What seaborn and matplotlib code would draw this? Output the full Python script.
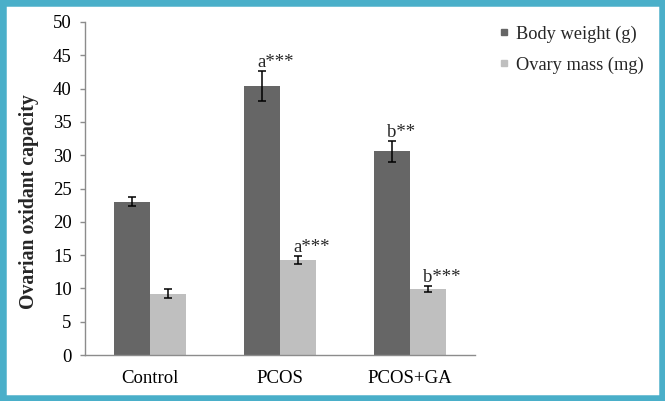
import pandas as pd
import matplotlib
matplotlib.use("Agg")
import matplotlib.pyplot as plt
import seaborn as sns
from matplotlib.lines import Line2D
from matplotlib.patches import Rectangle

groups = ['Control', 'PCOS', 'PCOS+GA']
body_weight = [23.0, 40.4, 30.6]
body_weight_err = [0.7, 2.3, 1.6]
ovary_mass = [9.2, 14.3, 9.9]
ovary_mass_err = [0.7, 0.6, 0.5]
body_marks = ['', 'a***', 'b**']
ovary_marks = ['', 'a***', 'b***']
series = ['Body weight (g)', 'Ovary mass (mg)']

df = pd.DataFrame({
    'group': groups * 2,
    'measure': [series[0]] * 3 + [series[1]] * 3,
    'value': body_weight + ovary_mass,
})

sns.set_theme(style="white")
plt.rcParams["font.family"] = ["Liberation Serif", "DejaVu Serif"]
colors = ['#666666', '#bfbfbf']

fig = plt.figure(figsize=(6.65, 4.01), dpi=100)
ax = fig.add_axes([85/665, 1-355/401, 390/665, 333/401])

sns.barplot(data=df, x='group', y='value', hue='measure', palette=colors,
            width=0.56, errorbar=None, linewidth=0, ax=ax, legend=False)

# error bars + significance marks on top of each bar
for cont, errs, marks in zip(ax.containers, [body_weight_err, ovary_mass_err],
                             [body_marks, ovary_marks]):
    for bar, e, m in zip(cont, errs, marks):
        cx = bar.get_x() + bar.get_width() / 2
        h = bar.get_height()
        ax.errorbar(cx, h, yerr=e, fmt='none', ecolor='black', elinewidth=1.1,
                    capsize=3, capthick=1.1)
        if m:
            ax.annotate(m, xy=(cx, h + e), xytext=(-3.5, 0), textcoords='offset points',
                        ha='left', va='bottom', fontsize=13.5)

ax.set_ylim(0, 50)
ax.set_yticks(range(0, 51, 5))
ax.set_xlim(-0.5, 2.5)
ax.set_xticks([-0.5, 0.5, 1.5, 2.5], minor=True)
ax.tick_params(axis='x', which='major', length=0, pad=10.5, labelsize=13.5, colors='black')
ax.tick_params(axis='x', which='minor', length=4, width=1, color='#8c8c8c', direction='out')
ax.tick_params(axis='y', length=3.6, width=1, color='#8c8c8c', direction='out',
               pad=6, labelsize=13.5, labelcolor='black', left=True)
for s in ['top', 'right']:
    ax.spines[s].set_visible(False)
for s in ['left', 'bottom']:
    ax.spines[s].set_color('#8c8c8c')
    ax.spines[s].set_linewidth(1)

ax.set_xlabel('')
ax.set_ylabel('Ovarian oxidant capacity', fontsize=14.2, fontweight='bold')
ax.yaxis.set_label_coords(-0.118, 0.46)

handles = [Line2D([0], [0], marker='s', color='none', markerfacecolor=c,
                  markeredgecolor=c, markersize=5, label=l)
           for c, l in zip(colors, series)]
fig.legend(handles=handles, loc='upper left', bbox_to_anchor=(489/665, 1-18/401),
           frameon=False, fontsize=13.2, handlelength=0.8, handletextpad=0.3,
           labelspacing=0.75, borderaxespad=0)

# blue frame round the figure
fig.patches.append(Rectangle((0, 0), 1, 1, transform=fig.transFigure, fill=False,
                             edgecolor='#4aafc9', linewidth=9, zorder=10))

fig.savefig('out.png', dpi=100)
